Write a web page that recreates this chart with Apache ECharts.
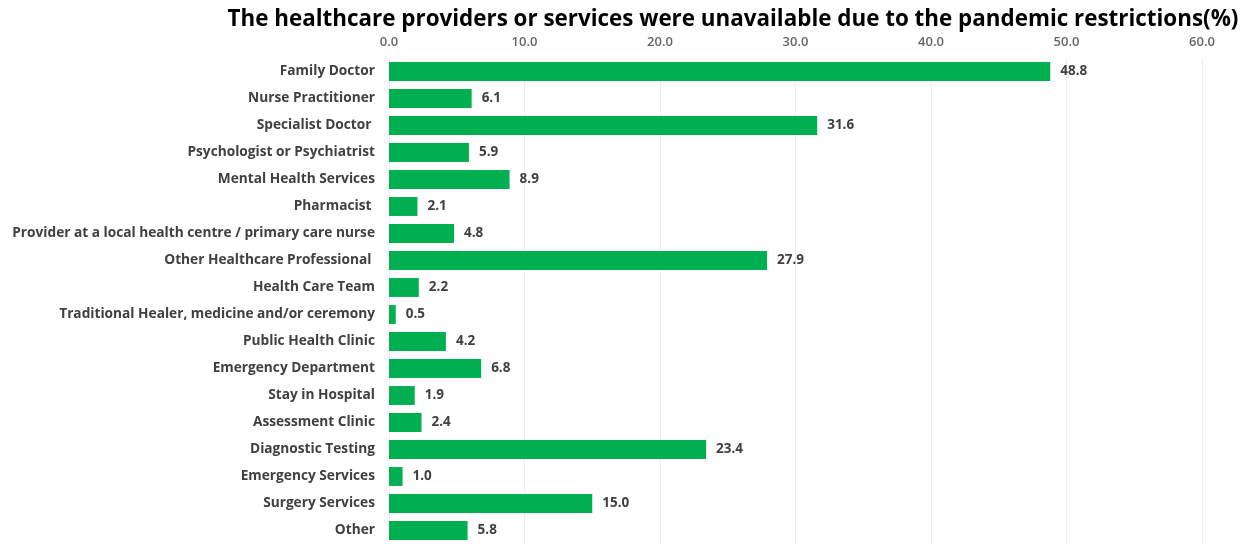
<!DOCTYPE html>
<html>
<head>
<meta charset="utf-8">
<script src="https://cdn.jsdelivr.net/npm/echarts@6/dist/echarts.min.js"></script>
<style>
  html, body { margin: 0; padding: 0; background: #ffffff; }
  #chart { width: 1247px; height: 544px; }
</style>
</head>
<body>
<div id="chart"></div>
<script>
// Share of respondents for whom each provider/service was unavailable (%)
const categories = [
  'Family Doctor',
  'Nurse Practitioner',
  'Specialist Doctor ',
  'Psychologist or Psychiatrist',
  'Mental Health Services',
  'Pharmacist ',
  'Provider at a local health centre / primary care nurse',
  'Other Healthcare Professional ',
  'Health Care Team',
  'Traditional Healer, medicine and/or ceremony',
  'Public Health Clinic',
  'Emergency Department',
  'Stay in Hospital',
  'Assessment Clinic',
  'Diagnostic Testing',
  'Emergency Services',
  'Surgery Services',
  'Other'
];
const values = [48.8, 6.1, 31.6, 5.9, 8.9, 2.1, 4.8, 27.9, 2.2, 0.5, 4.2, 6.8, 1.9, 2.4, 23.4, 1.0, 15.0, 5.8];
const axisMin = 0;
const axisMax = 60;
const axisStep = 10;
const titleText = 'The healthcare providers or services were unavailable due to the pandemic restrictions(%)';

const font = "'Open Sans', 'Liberation Sans', sans-serif";
const chart = echarts.init(document.getElementById('chart'));
chart.setOption({
  animation: false,
  title: {
    text: titleText,
    left: 728,
    textAlign: 'center',
    top: 4,
    textStyle: { fontFamily: font, fontSize: 22.4, fontWeight: 'bold', color: '#000000' }
  },
  grid: { left: 389, right: 45, top: 58, bottom: -3, containLabel: false },
  xAxis: {
    type: 'value',
    position: 'top',
    min: axisMin,
    max: axisMax,
    interval: axisStep,
    axisLine: { show: false },
    axisTick: { show: false },
    axisLabel: {
      margin: 9,
      formatter: v => v.toFixed(1),
      fontFamily: font, fontSize: 13, fontWeight: 600, color: '#666666'
    },
    splitLine: { show: true, lineStyle: { color: '#efefef', width: 1 } }
  },
  yAxis: {
    type: 'category',
    data: categories,
    inverse: true,
    axisLine: { show: true, lineStyle: { color: '#efefef' } },
    axisTick: { show: false },
    axisLabel: {
      margin: 14,
      fontFamily: font, fontSize: 13.7, fontWeight: 'bold', color: '#404040'
    }
  },
  series: [{
    type: 'bar',
    data: values,
    barCategoryGap: '30%',
    itemStyle: { color: '#00B050' },
    label: {
      show: true,
      position: 'right',
      distance: 10,
      formatter: p => p.value.toFixed(1),
      fontFamily: font, fontSize: 13.5, fontWeight: 'bold', color: '#404040'
    }
  }]
});
</script>
</body>
</html>
